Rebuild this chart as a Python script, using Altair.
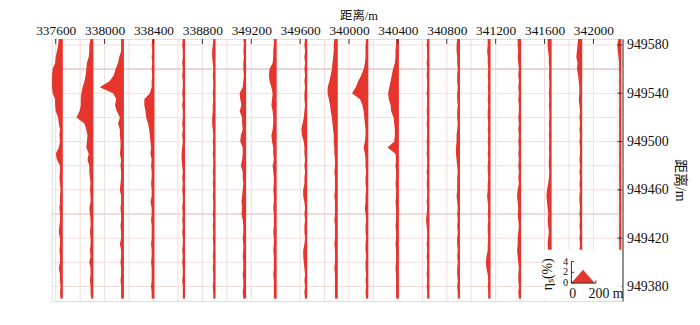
import altair as alt
import pandas as pd

# ---------------- data ----------------
PROFILE_X = [337650, 337900, 338150, 338400, 338650, 338900, 339150, 339400, 339650,
             339900, 340150, 340400, 340650, 340900, 341150, 341400, 341650, 341900, 342220]
Y_TOP = 949585          # first sample (m)
Y_STEP = 5              # sample spacing (m)
M_PER_PCT = 50          # horizontal metres per 1 % of eta

P1 = [0.5,0.6,0.8,1.0,1.1,1.5,1.6,1.6,1.6,1.5,1.1,1.1,1.0,0.6,0.5,0.3,0.4,0.3,0.5,1.0,0.8,0.3,0.3,0.4,0.3,0.2,0.3,0.3,0.4,0.3,0.3,0.4,0.5,0.3,0.3,0.4,0.3,0.3,0.5,0.3,0.3,0.2,0.3,0.2]
P2 = [0.3,0.5,0.5,0.6,0.9,1.0,1.1,1.3,1.6,1.8,1.9,1.9,2.1,2.6,1.3,1.0,0.8,0.9,1.0,0.6,0.8,0.5,0.5,0.4,0.3,0.4,0.3,0.3,0.5,0.4,0.3,0.3,0.4,0.3,0.3,0.4,0.3,0.5,0.3,0.3,0.4,0.3,0.3,0.2]
P3 = [0.3,0.3,0.3,0.6,0.8,1.2,1.5,2.2,3.8,1.6,1.1,1.3,1.0,0.5,0.8,0.5,0.5,0.4,0.4,0.5,0.3,0.4,0.3,0.3,0.4,0.5,0.3,0.3,0.4,0.3,0.3,0.4,0.3,0.3,0.5,0.3,0.3,0.4,0.3,0.3,0.4,0.3,0.3,0.3]
P4 = [0.2,0.3,0.2,0.3,0.2,0.3,0.2,0.3,0.3,0.6,1.5,1.5,1.3,1.2,0.9,0.7,0.6,0.5,0.4,0.5,0.3,0.4,0.3,0.3,0.4,0.3,0.3,0.5,0.3,0.3,0.4,0.3,0.3,0.3,0.4,0.3,0.3,0.4,0.3,0.3,0.3,0.4,0.3,0.3]
P5 = [0.2,0.3,0.2,0.2,0.3,0.2,0.3,0.2,0.2,0.3,0.2,0.3,0.2,0.2,0.3,0.2,0.3,0.2,0.3,0.4,0.4,0.3,0.2,0.3,0.2,0.3,0.2,0.2,0.3,0.2,0.3,0.2,0.3,0.2,0.2,0.3,0.2,0.3,0.2,0.2,0.3,0.2,0.2,0.2]
P6 = [0.2,0.3,0.4,0.4,0.3,0.2,0.3,0.2,0.2,0.3,0.2,0.3,0.3,0.4,0.4,0.3,0.2,0.3,0.2,0.3,0.2,0.2,0.3,0.2,0.3,0.2,0.3,0.2,0.2,0.3,0.2,0.3,0.2,0.3,0.2,0.2,0.3,0.2,0.3,0.2,0.2,0.3,0.2,0.2]
P7 = [0.3,0.2,0.3,0.2,0.3,0.3,0.2,0.3,0.4,0.9,0.8,0.6,0.9,0.5,0.5,0.4,0.7,0.8,0.4,0.4,0.5,0.7,0.4,0.4,0.3,0.4,0.5,0.6,0.5,0.6,0.4,0.3,0.3,0.4,0.3,0.3,0.4,0.3,0.3,0.4,0.3,0.3,0.4,0.3]
P8 = [0.3,0.3,0.4,0.4,0.5,1.0,1.1,1.0,0.7,0.5,0.6,0.7,0.5,0.4,0.4,0.5,0.7,0.6,0.4,0.4,0.3,0.5,0.4,0.3,0.3,0.4,0.3,0.3,0.4,0.3,0.3,0.3,0.4,0.3,0.3,0.4,0.3,0.3,0.3,0.4,0.3,0.3,0.3,0.3]
P9 = [0.2,0.3,0.2,0.3,0.2,0.3,0.2,0.3,0.2,0.3,0.3,0.2,0.3,0.4,0.6,0.8,0.7,0.4,0.3,0.3,0.2,0.3,0.2,0.3,0.3,0.5,0.5,0.3,0.2,0.3,0.2,0.3,0.3,0.2,0.3,0.5,0.5,0.4,0.3,0.2,0.3,0.2,0.3,0.2]
P10 = [0.4,0.5,0.5,0.6,0.7,0.8,1.0,1.2,1.5,1.5,1.3,1.1,1.0,0.8,0.7,0.6,0.5,0.5,0.4,0.4,0.3,0.3,0.4,0.3,0.3,0.3,0.4,0.3,0.3,0.3,0.4,0.3,0.3,0.3,0.4,0.3,0.3,0.3,0.4,0.3,0.3,0.3,0.3,0.3]
P11 = [0.2,0.3,0.3,0.3,0.4,0.6,1.0,1.5,1.9,2.5,1.2,0.8,0.6,0.5,0.4,0.3,0.3,0.4,0.6,0.4,0.3,0.3,0.2,0.3,0.3,0.2,0.3,0.3,0.4,0.3,0.2,0.3,0.3,0.2,0.3,0.3,0.2,0.3,0.3,0.2,0.3,0.2,0.3,0.2]
P12 = [0.3,0.3,0.4,0.4,0.5,0.8,1.0,1.2,1.4,1.6,1.5,1.2,1.1,0.7,0.6,0.5,0.5,0.6,1.7,0.4,0.3,0.4,0.3,0.3,0.4,0.3,0.3,0.4,0.3,0.3,0.3,0.4,0.3,0.3,0.4,0.3,0.3,0.3,0.4,0.3,0.3,0.3,0.3,0.3]
P13 = [0.2,0.3,0.2,0.2,0.3,0.2,0.3,0.2,0.2,0.3,0.2,0.2,0.3,0.2,0.3,0.2,0.2,0.3,0.2,0.3,0.2,0.2,0.3,0.2,0.3,0.2,0.2,0.3,0.2,0.3,0.4,0.3,0.2,0.2,0.3,0.2,0.3,0.2,0.2,0.3,0.2,0.3,0.2,0.2]
P14 = [0.3,0.4,0.4,0.3,0.3,0.2,0.3,0.3,0.2,0.3,0.3,0.2,0.3,0.3,0.2,0.3,0.4,0.4,0.5,0.5,0.4,0.3,0.2,0.3,0.3,0.3,0.4,0.3,0.2,0.3,0.2,0.3,0.2,0.3,0.3,0.2,0.3,0.2,0.3,0.3,0.2,0.3,0.2,0.2]
P15 = [0.3,0.3,0.4,0.3,0.3,0.2,0.3,0.2,0.3,0.2,0.3,0.2,0.3,0.3,0.2,0.3,0.2,0.3,0.2,0.3,0.2,0.3,0.3,0.2,0.3,0.3,0.4,0.3,0.2,0.3,0.2,0.3,0.3,0.2,0.3,0.3,0.5,0.6,0.5,0.3,0.2,0.3,0.2,0.2]
P16 = [0.4,0.4,0.3,0.4,0.3,0.2,0.3,0.2,0.3,0.2,0.3,0.2,0.2,0.3,0.2,0.3,0.2,0.3,0.2,0.3,0.2,0.3,0.2,0.3,0.2,0.4,0.5,0.4,0.3,0.4,0.3,0.2,0.3,0.4,0.4,0.5,0.4,0.3,0.2,0.3,0.3,0.2,0.3,0.2]
P17 = [0.5,0.5,0.4,0.3,0.3,0.2,0.3,0.2,0.2,0.3,0.2,0.3,0.2,0.2,0.3,0.2,0.3,0.2,0.3,0.2,0.3,0.3,0.2,0.3,0.4,0.6,0.7,0.6,0.5,0.4,0.5,0.4,0.3,0.4,0.5,0.4,0.3,0.3,0.2,0.3,0.2,0.3,0.2,0.2]
P18 = [0.5,0.6,0.7,0.8,0.6,0.7,0.5,0.4,0.3,0.3,0.4,0.3,0.2,0.3,0.2,0.3,0.2,0.3,0.2,0.2,0.3,0.2,0.3,0.2,0.3,0.2,0.3,0.3,0.2,0.3,0.2,0.3,0.2,0.3,0.2,0.3,0.2,0.3,0.2,0.2,0.3,0.2,0.2,0.2]
P19 = [0.3,0.5,0.4,0.3,0.2,0.2,0.1,0.2,0.1,0.2,0.1,0.1,0.2,0.1,0.2,0.1,0.2,0.1,0.1,0.2,0.1,0.2,0.1,0.2,0.1,0.1,0.2,0.1,0.2,0.1,0.1,0.2,0.1,0.2,0.1,0.1]
ETA = [P1, P2, P3, P4, P5, P6, P7, P8, P9, P10, P11, P12, P13, P14, P15, P16, P17, P18, P19]

X_TICKS = [337600, 338000, 338400, 338800, 339200, 339600, 340000, 340400, 340800, 341200, 341600, 342000]
X_TICK_LABELS = ["337600", "338000", "338400", "338800", "349200", "349600",
                 "340000", "340400", "340800", "341200", "341600", "342000"]
Y_TICKS = [949380, 949420, 949460, 949500, 949540, 949580]
GRID_X = list(range(337600, 342201, 200))
GRID_Y = list(range(949380, 949581, 20))
GRID_Y_DARK = [949440, 949560]

# legend (scale inset)
LEG_TRI_M = [0, 95, 190]
LEG_TRI_ETA = [0, 2.5, 0]
LEG_ETA_TICKS = [0, 2, 4]
LEG_DIST_TICKS = [0, 200]
LEG_DIST_LABELS = ["0", "200 m"]
LEG_X0 = 341820
LEG_Y0 = 949382.8
LEG_M_PER_PCT = 4.46

X_DOMAIN = [337567, 342238]
Y_DOMAIN = [949368, 949585]

RED = "#e5352d"
SERIF = "'Liberation Serif', 'Noto Sans CJK SC', serif"
TXT = "#111111"

XS = alt.Scale(domain=X_DOMAIN, nice=False, zero=False)
YS = alt.Scale(domain=Y_DOMAIN, nice=False, zero=False)

label_expr = "[" + ",".join("'%s'" % s for s in X_TICK_LABELS) + "][indexof([" + \
    ",".join(str(v) for v in X_TICKS) + "], datum.value)]"

AX_X = alt.Axis(
    orient="top", values=X_TICKS, labelExpr=label_expr, tickSize=0, domain=False, grid=False,
    labelFont=SERIF, labelFontSize=13.5, labelPadding=1, labelColor=TXT, labelFlush=False,
    labelOverlap=False,
    title="距离/m", titleFont=SERIF, titleFontSize=12.5, titleFontWeight="normal", titleColor=TXT,
    titleX=309, titleY=-20, titleAlign="center", titleBaseline="alphabetic")
AX_Y = alt.Axis(
    orient="right", values=Y_TICKS, format="d", tickSize=0, domain=True, domainColor="#333333",
    grid=False, labelFont=SERIF, labelFontSize=14, labelPadding=4, labelColor=TXT,
    title="距离/m", titleFont=SERIF, titleFontSize=14, titleFontWeight="normal", titleColor=TXT,
    titleAngle=90, titleX=57, titleY=142, titleAlign="center", titleBaseline="middle")


def X(field):
    return alt.X(field, scale=XS, axis=AX_X, stack=None)


def Y(field):
    return alt.Y(field, scale=YS, axis=AX_Y, stack=None)


# ---------------- tables ----------------
rows = []
base_rows = []
for k, (x0, vals) in enumerate(zip(PROFILE_X, ETA)):
    for i, v in enumerate(vals):
        y = Y_TOP - i * Y_STEP
        rows.append({"p": k, "yy": y, "base": x0, "left": x0 - v * M_PER_PCT})
    base_rows.append({"base": x0, "ytop": Y_TOP, "ybot": Y_TOP - (len(vals) - 1) * Y_STEP})
df = pd.DataFrame(rows)
base_df = pd.DataFrame(base_rows)

# ---------------- layers ----------------
grid_v = alt.Chart(pd.DataFrame({"gx": GRID_X})).mark_rule(color="#f4dcdc", strokeWidth=1).encode(
    x=X("gx:Q"))
grid_h = alt.Chart(pd.DataFrame({"gy": GRID_Y})).mark_rule(color="#f4dcdc", strokeWidth=1).encode(
    y=Y("gy:Q"))
grid_hd = alt.Chart(pd.DataFrame({"gy": GRID_Y_DARK})).mark_rule(color="#e6c6c6", strokeWidth=1.2).encode(
    y=Y("gy:Q"))

area = alt.Chart(df).mark_area(orient="horizontal", color=RED, opacity=1, clip=True).encode(
    y=Y("yy:Q"),
    x=X("left:Q"),
    x2="base:Q",
    detail="p:N",
)

baselines = alt.Chart(base_df).mark_rule(color=RED, strokeWidth=2).encode(
    x=X("base:Q"), y=Y("ytop:Q"), y2="ybot:Q")

top_ticks = alt.Chart(pd.DataFrame({"t": X_TICKS})).mark_rule(color="#333333", strokeWidth=1).encode(
    x=X("t:Q"), y=alt.value(0), y2=alt.value(5))
right_ticks = alt.Chart(pd.DataFrame({"t": Y_TICKS})).mark_rule(color="#333333", strokeWidth=1).encode(
    y=Y("t:Q"), x=alt.value(570), x2=alt.value(575))

# legend box
box_df = pd.DataFrame({"x1": [341597], "x2": [342230], "y1": [949369], "y2": [949410.5]})
box = alt.Chart(box_df).mark_rect(color="white").encode(
    x=X("x1:Q"), x2="x2:Q", y=Y("y1:Q"), y2="y2:Q")

tri_df = pd.DataFrame({"lx": [LEG_X0 + m for m in LEG_TRI_M],
                       "ly": [LEG_Y0 + e * LEG_M_PER_PCT for e in LEG_TRI_ETA],
                       "ly0": [LEG_Y0] * len(LEG_TRI_M)})
tri = alt.Chart(tri_df).mark_area(color=RED, opacity=1).encode(
    x=alt.X("lx:Q", scale=XS, axis=AX_X), y=alt.Y("ly:Q", scale=YS, axis=AX_Y), y2="ly0:Q")

leg_axes_df = pd.DataFrame({
    "x1": [LEG_X0, LEG_X0], "x2": [LEG_X0, LEG_X0 + LEG_DIST_TICKS[-1]],
    "y1": [LEG_Y0, LEG_Y0], "y2": [LEG_Y0 + LEG_ETA_TICKS[-1] * LEG_M_PER_PCT, LEG_Y0]})
leg_axes = alt.Chart(leg_axes_df).mark_rule(color="#333333", strokeWidth=1).encode(
    x=X("x1:Q"), x2="x2:Q", y=Y("y1:Q"), y2="y2:Q")

leg_vt_df = pd.DataFrame({"x1": [LEG_X0] * 3, "x2": [LEG_X0 + 22] * 3,
                          "y": [LEG_Y0 + v * LEG_M_PER_PCT for v in LEG_ETA_TICKS],
                          "lab": [str(v) for v in LEG_ETA_TICKS],
                          "lx": [LEG_X0 - 26] * 3})
leg_vt = alt.Chart(leg_vt_df).mark_rule(color="#333333", strokeWidth=1).encode(
    x=X("x1:Q"), x2="x2:Q", y=Y("y:Q"))
leg_vl = alt.Chart(leg_vt_df).mark_text(font=SERIF, fontSize=10.5, color=TXT, align="right",
                                        baseline="middle").encode(
    x=X("lx:Q"), y=Y("y:Q"), text="lab:N")

leg_ht_df = pd.DataFrame({"x": [LEG_X0 + d for d in LEG_DIST_TICKS],
                          "y1": [LEG_Y0] * 2, "y2": [LEG_Y0 + 2.2] * 2})
leg_ht = alt.Chart(leg_ht_df).mark_rule(color="#333333", strokeWidth=1).encode(
    x=X("x:Q"), y=Y("y1:Q"), y2="y2:Q")

leg_hl_df = pd.DataFrame({"x": [LEG_X0 + d for d in LEG_DIST_TICKS],
                          "lab": LEG_DIST_LABELS,
                          "dx": [-18, -60],
                          "y": [LEG_Y0 - 9.2] * 2})
leg_hl = alt.Chart(leg_hl_df).transform_calculate(tx="datum.x + datum.dx").mark_text(
    font=SERIF, fontSize=14, color=TXT, align="left", baseline="middle").encode(
    x=X("tx:Q"), y=Y("y:Q"), text="lab:N")

leg_title_df = pd.DataFrame({"x": [341629], "y": [949390.1], "lab": ["ηₛ(%)"]})
leg_title = alt.Chart(leg_title_df).mark_text(
    font=SERIF, fontSize=14, color=TXT, angle=270, align="center", baseline="middle").encode(
    x=X("x:Q"), y=Y("y:Q"), text="lab:N")

chart = alt.layer(
    grid_v, grid_h, grid_hd, area, baselines, top_ticks, right_ticks,
    box, tri, leg_axes, leg_vt, leg_vl, leg_ht, leg_hl, leg_title
).properties(
    width=575, height=264,
    autosize=alt.AutoSizeParams(type="none"),
    padding={"left": 44, "top": 30, "right": 70, "bottom": 15},
).configure_view(
    stroke="#333333", strokeWidth=1
).configure(background="white")

chart.save("out.html", embed_options={"renderer": "svg", "actions": False})
